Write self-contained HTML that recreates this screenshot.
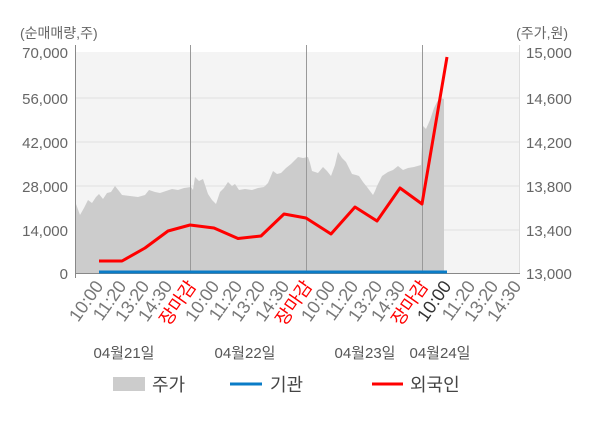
<!DOCTYPE html>
<html><head><meta charset="utf-8"><style>
html,body{margin:0;padding:0;background:#fff;}
svg{display:block;font-family:"Liberation Sans","Noto Sans CJK KR",sans-serif;}
</style></head><body>
<svg width="600" height="428" viewBox="0 0 600 428" xmlns="http://www.w3.org/2000/svg">
<rect x="75" y="52" width="445" height="221" fill="#f4f4f4"/>
<g stroke="#e0e0e0" stroke-width="1">
<line x1="75" y1="98" x2="520" y2="98"/><line x1="75" y1="142" x2="520" y2="142"/>
<line x1="75" y1="186" x2="520" y2="186"/><line x1="75" y1="230" x2="520" y2="230"/>
</g>
<polygon fill="#cccccc" points="76,273 76,204 80,215 84,208 88,200 92,203 96,197 99,194 103,199 107,193 111,192 115,186 119,191 122,195 130,196 138,197 145,195 149,190 155,192 160,193 166,191 172,189 178,190 184,188 191,187 193,190 195,177 199,181 203,179 205,185 208,194 212,200 216,204 220,192 224,188 228,182 232,186 235,184 239,190 245,189 252,190 258,188 264,187 268,183 273,171 277,174 281,173 286,168 291,164 295,160 298,157 303,158 308,157 310,163 312,171 318,173 323,167 327,171 331,176 335,165 338,152 342,158 346,162 349,168 352,174 356,175 359,176 363,182 367,187 370,191 373,195 375,191 377,186 380,180 382,176 388,172 393,170 398,166 403,170 408,168 414,167 421,165 423,126 426,129 430,120 434,108 437,102 440,98 444,99 444,273"/>
<g stroke="#999" stroke-width="1">
<line x1="190.5" y1="45" x2="190.5" y2="273"/><line x1="306.5" y1="45" x2="306.5" y2="273"/><line x1="422.5" y1="45" x2="422.5" y2="273"/>
</g>
<line x1="75.5" y1="45" x2="75.5" y2="278" stroke="#888" stroke-width="1"/>
<line x1="519.5" y1="45" x2="519.5" y2="273" stroke="#ddd" stroke-width="1"/>
<line x1="75" y1="273.5" x2="520" y2="273.5" stroke="#888" stroke-width="1"/>
<line x1="99" y1="272" x2="447" y2="272" stroke="#0a7cc7" stroke-width="3"/>
<polyline fill="none" stroke="#ff0000" stroke-width="3" stroke-linejoin="round" points="99,261 122,261 145,248 168,231 190,225 214,228 238,238.5 261,236 284,214 306,218 331,234 355,207 377,221 400,188 422,204 447,57"/>
<g font-size="15" fill="#666">
<text x="20" y="38" font-size="14">(순매매량,주)</text>
<text x="568" y="38" font-size="14" text-anchor="end">(주가,원)</text>
<g text-anchor="end">
<text x="68" y="58">70,000</text><text x="68" y="104">56,000</text><text x="68" y="148">42,000</text>
<text x="68" y="192">28,000</text><text x="68" y="236">14,000</text><text x="68" y="279">0</text>
</g>
<text x="526" y="58">15,000</text><text x="526" y="104">14,600</text><text x="526" y="148">14,200</text>
<text x="526" y="192">13,800</text><text x="526" y="236">13,400</text><text x="526" y="279">13,000</text>
</g>
<g font-size="18" fill="#777" text-anchor="end">
<text transform="translate(104,286) rotate(-55)">10:00</text>
<text transform="translate(127,286) rotate(-55)">11:20</text>
<text transform="translate(150,286) rotate(-55)">13:20</text>
<text transform="translate(173,286) rotate(-55)">14:30</text>
<text transform="translate(197,286) rotate(-55)" fill="#ff0000">장마감</text>
<text transform="translate(220,286) rotate(-55)">10:00</text>
<text transform="translate(243,286) rotate(-55)">11:20</text>
<text transform="translate(266,286) rotate(-55)">13:20</text>
<text transform="translate(290,286) rotate(-55)">14:30</text>
<text transform="translate(313,286) rotate(-55)" fill="#ff0000">장마감</text>
<text transform="translate(336,286) rotate(-55)">10:00</text>
<text transform="translate(359,286) rotate(-55)">11:20</text>
<text transform="translate(383,286) rotate(-55)">13:20</text>
<text transform="translate(406,286) rotate(-55)">14:30</text>
<text transform="translate(429,286) rotate(-55)" fill="#ff0000">장마감</text>
<text transform="translate(452,286) rotate(-55)" fill="#333">10:00</text>
<text transform="translate(476,286) rotate(-55)">11:20</text>
<text transform="translate(499,286) rotate(-55)">13:20</text>
<text transform="translate(522,286) rotate(-55)">14:30</text>
</g>
<g font-size="15" fill="#555" text-anchor="middle">
<text x="124" y="358">04월21일</text><text x="245" y="358">04월22일</text>
<text x="365" y="358">04월23일</text><text x="440" y="358">04월24일</text>
</g>
<rect x="113" y="377" width="32" height="14" fill="#cccccc"/>
<line x1="230" y1="384" x2="262" y2="384" stroke="#0a7cc7" stroke-width="3"/>
<line x1="372" y1="384" x2="403" y2="384" stroke="#ff0000" stroke-width="3"/>
<g font-size="18" fill="#444">
<text x="152" y="391">주가</text><text x="270" y="391">기관</text><text x="410" y="391">외국인</text>
</g>
</svg>
</body></html>
